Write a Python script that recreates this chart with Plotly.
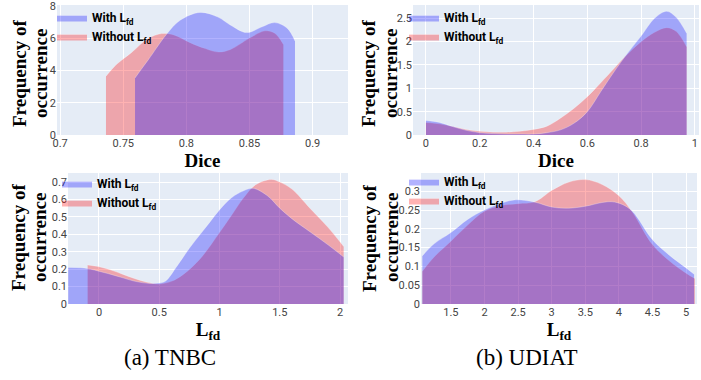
import plotly.graph_objects as go
from plotly.subplots import make_subplots

# ---------------- data ----------------
# (a) TNBC - Dice
tnbc_dice_with_x = [0.7593, 0.765, 0.770, 0.7843, 0.795, 0.8108, 0.825, 0.835, 0.8477, 0.86, 0.870, 0.880, 0.886]
tnbc_dice_with_y = [3.53, 4.15, 4.68, 6.24, 7.10, 7.59, 7.30, 6.80, 6.34, 6.70, 6.96, 6.60, 5.82]
tnbc_dice_without_x = [0.7363, 0.745, 0.7564, 0.7696, 0.7804, 0.790, 0.8029, 0.815, 0.8253, 0.835, 0.850, 0.8623, 0.870, 0.8768]
tnbc_dice_without_y = [3.64, 4.40, 5.10, 5.97, 6.28, 6.20, 5.72, 5.35, 5.14, 5.30, 6.00, 6.45, 6.30, 5.61]

# (b) UDIAT - Dice
udiat_dice_x = [0, 0.05, 0.1, 0.15, 0.2, 0.25, 0.3, 0.35, 0.4, 0.45, 0.5, 0.55, 0.6, 0.65, 0.7, 0.74, 0.8, 0.85, 0.895, 0.93, 0.969]
udiat_dice_with_y = [0.31, 0.27, 0.18, 0.10, 0.05, 0.03, 0.02, 0.02, 0.02, 0.05, 0.11, 0.25, 0.50, 0.93, 1.36, 1.68, 2.12, 2.50, 2.65, 2.52, 2.18]
udiat_dice_without_y = [0.27, 0.24, 0.18, 0.12, 0.08, 0.06, 0.06, 0.08, 0.12, 0.19, 0.36, 0.57, 0.82, 1.12, 1.43, 1.68, 2.00, 2.20, 2.30, 2.22, 1.89]

# (a) TNBC - Lfd
tnbc_lfd_with_x = [-0.255, -0.15, -0.05, 0, 0.1, 0.2, 0.3, 0.42, 0.5, 0.55, 0.65, 0.75, 0.84, 0.92, 1.0, 1.1, 1.2, 1.28, 1.4, 1.5, 1.6, 1.75, 1.9, 2.03]
tnbc_lfd_with_y = [0.21, 0.208, 0.197, 0.188, 0.17, 0.15, 0.13, 0.118, 0.12, 0.13, 0.22, 0.32, 0.40, 0.47, 0.54, 0.61, 0.65, 0.664, 0.62, 0.55, 0.49, 0.415, 0.34, 0.27]
tnbc_lfd_without_x = [-0.094, 0, 0.1, 0.2, 0.3, 0.4, 0.5, 0.6, 0.7, 0.84, 1.0, 1.1, 1.2, 1.3, 1.43, 1.5, 1.6, 1.75, 1.9, 2.03]
tnbc_lfd_without_y = [0.224, 0.214, 0.195, 0.17, 0.145, 0.125, 0.115, 0.13, 0.17, 0.26, 0.41, 0.51, 0.61, 0.685, 0.715, 0.70, 0.66, 0.55, 0.44, 0.33]

# (b) UDIAT - Lfd
udiat_lfd_with_x = [1.075, 1.25, 1.5, 1.75, 2.0, 2.25, 2.45, 2.75, 3.0, 3.25, 3.5, 3.75, 3.9, 4.05, 4.2, 4.5, 4.75, 5.0, 5.12]
udiat_lfd_with_y = [0.128, 0.16, 0.19, 0.225, 0.25, 0.268, 0.277, 0.271, 0.258, 0.255, 0.26, 0.27, 0.272, 0.265, 0.247, 0.171, 0.13, 0.096, 0.079]
udiat_lfd_without_x = [1.075, 1.25, 1.5, 1.75, 2.0, 2.25, 2.5, 2.75, 3.0, 3.25, 3.5, 3.75, 4.0, 4.2, 4.5, 4.75, 5.0, 5.13]
udiat_lfd_without_y = [0.087, 0.125, 0.167, 0.21, 0.247, 0.262, 0.267, 0.272, 0.302, 0.324, 0.331, 0.318, 0.288, 0.245, 0.158, 0.115, 0.082, 0.068]

series_names = ["With L<sub>fd</sub>", "Without L<sub>fd</sub>"]
captions = ["(a) TNBC", "(b) UDIAT"]
x_titles = ["Dice", "Dice", "L<sub>fd</sub>", "L<sub>fd</sub>"]
y_title_lines = ["Frequency of", "occurrence"]

# ---------------- figure ----------------
BLUE = "rgba(0,0,255,0.3)"
RED = "rgba(255,0,0,0.3)"
EDGE = "rgba(255,255,255,0.35)"

fig = make_subplots(rows=2, cols=2)

panels = [
    (1, 1, "legend", tnbc_dice_with_x, tnbc_dice_with_y, tnbc_dice_without_x, tnbc_dice_without_y),
    (1, 2, "legend2", udiat_dice_x, udiat_dice_with_y, udiat_dice_x, udiat_dice_without_y),
    (2, 1, "legend3", tnbc_lfd_with_x, tnbc_lfd_with_y, tnbc_lfd_without_x, tnbc_lfd_without_y),
    (2, 2, "legend4", udiat_lfd_with_x, udiat_lfd_with_y, udiat_lfd_without_x, udiat_lfd_without_y),
]

for r, c, lg, wx, wy, ox, oy in panels:
    # "Without" drawn first so the "With" fill sits on top
    fig.add_trace(go.Scatter(x=ox, y=oy, mode="lines", fill="tozeroy", fillcolor=RED,
                             line=dict(color=EDGE, width=0.8, shape="spline", smoothing=1.0),
                             name="<b>" + series_names[1] + "</b>", legend=lg, legendrank=2),
                  row=r, col=c)
    fig.add_trace(go.Scatter(x=wx, y=wy, mode="lines", fill="tozeroy", fillcolor=BLUE,
                             line=dict(color=EDGE, width=0.8, shape="spline", smoothing=1.0),
                             name="<b>" + series_names[0] + "</b>", legend=lg, legendrank=1),
                  row=r, col=c)

W, H = 701, 380
def px(x0, x1):
    return [x0 / W, x1 / W]
def py(top, bottom):
    return [1 - bottom / H, 1 - top / H]

tick_font = dict(family="Roboto", size=11, color="#444")
title_font = dict(family="Liberation Serif", size=19, color="black")

domains = {
    1: (px(57, 348), py(5, 135)),
    2: (px(413, 699), py(5, 135)),
    3: (px(68, 348), py(173, 304)),
    4: (px(421, 697), py(173, 304)),
}
xranges = {1: [0.6975, 0.928], 2: [-0.048, 1.015], 3: [-0.257, 2.066], 4: [1.055, 5.163]}
yranges = {1: [0, 8.05], 2: [0, 2.785], 3: [0, 0.752], 4: [0, 0.3485]}
xdticks = {1: 0.05, 2: 0.2, 3: 0.5, 4: 0.5}
ydticks = {1: 2, 2: 0.5, 3: 0.1, 4: 0.05}

for i in range(1, 5):
    sx = "" if i == 1 else str(i)
    fig.layout["xaxis" + sx].update(
        domain=domains[i][0], range=xranges[i], dtick=xdticks[i], tick0=0,
        showgrid=True, gridcolor="white", zeroline=False, tickfont=tick_font,
        ticks="", automargin=False, ticklabeloverflow="allow",
        title=dict(text="<b>" + x_titles[i - 1] + "</b>", font=title_font, standoff=0),
    )
    fig.layout["yaxis" + sx].update(
        domain=domains[i][1], range=yranges[i], dtick=ydticks[i], tick0=0,
        showgrid=True, gridcolor="white", zeroline=False, tickfont=tick_font,
        ticks="", automargin=False, ticklabeloverflow="allow",
    )

# y-axis titles: two rotated lines beside each panel
for (x1, x2, cy) in [(20, 41, 74), (369, 391, 74), (19, 40, 238), (370, 392, 238)]:
    for line, cx in zip(y_title_lines, (x1, x2)):
        fig.add_annotation(text="<b>" + line + "</b>", x=cx / W, y=1 - cy / H,
                           xref="paper", yref="paper", showarrow=False, textangle=-90,
                           xanchor="center", yanchor="middle", font=title_font)

leg_common = dict(bgcolor="rgba(255,255,255,0)", xanchor="left", yanchor="top",
                  font=dict(family="Roboto", size=12, color="black"),
                  itemwidth=30, tracegroupgap=0, traceorder="normal")
fig.update_layout(
    legend=dict(x=52 / W, y=1 - 3 / H, **leg_common),
    legend2=dict(x=404 / W, y=1 - 3 / H, **leg_common),
    legend3=dict(x=57 / W, y=1 - 169 / H, **leg_common),
    legend4=dict(x=404 / W, y=1 - 167 / H, **leg_common),
)

for txt, cx in zip(captions, [170, 527]):
    fig.add_annotation(text=txt, x=cx / W, y=1 - 357 / H, xref="paper", yref="paper",
                       showarrow=False, xanchor="center", yanchor="middle",
                       font=dict(family="Liberation Serif", size=23, color="black"))

fig.update_layout(
    width=W, height=H, margin=dict(l=0, r=0, t=0, b=0),
    paper_bgcolor="white", plot_bgcolor="#E5ECF6", showlegend=True,
)

fig.write_html("out.html", config={"displayModeBar": False},
               post_script="document.body.style.margin='0';document.body.style.padding='0';")
